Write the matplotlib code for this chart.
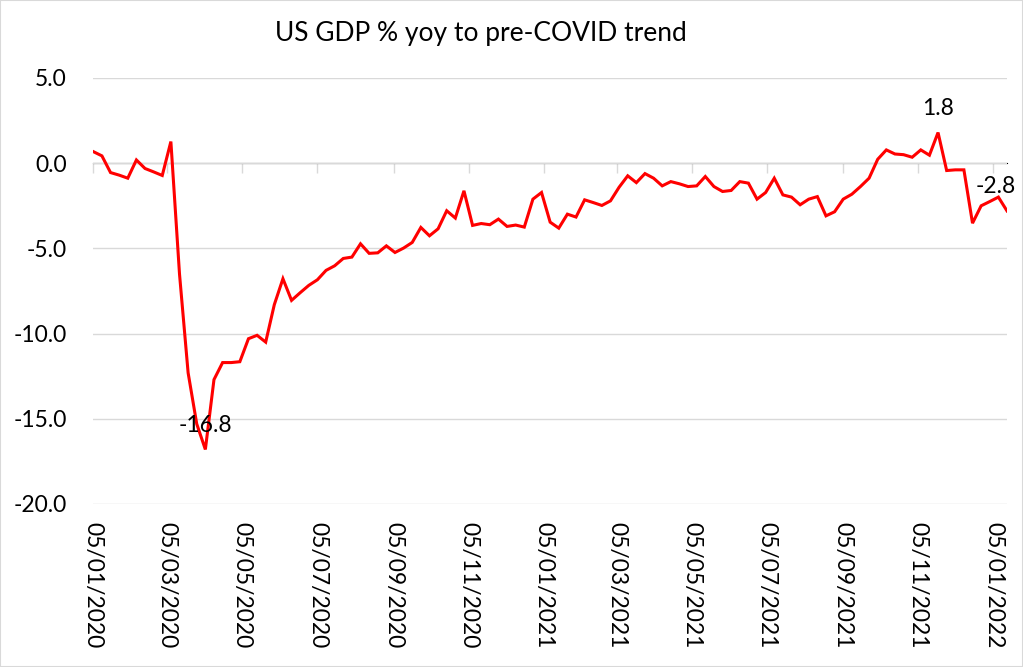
import numpy as np
import pandas as pd
import matplotlib
matplotlib.use("Agg")
import matplotlib.pyplot as plt
import matplotlib.dates as mdates
from matplotlib.patches import Rectangle

plt.rcParams["font.family"] = ["Lato", "DejaVu Sans"]
plt.rcParams["axes.unicode_minus"] = False

TITLE = "US GDP % yoy to pre-COVID trend"
START = "2020-01-05"

# weekly readings, % vs pre-COVID trend
gdp_gap = [
    0.68, 0.43, -0.55, -0.70, -0.88, 0.19, -0.31, -0.51, -0.72, 1.27,
    -6.5, -12.3, -15.3, -16.8, -12.7, -11.7, -11.7, -11.65, -10.3, -10.1,
    -10.5, -8.3, -6.78, -8.05, -7.6, -7.17, -6.84, -6.29, -6.02, -5.59,
    -5.51, -4.73, -5.29, -5.26, -4.85, -5.24, -4.98, -4.65, -3.77, -4.26,
    -3.85, -2.79, -3.22, -1.62, -3.65, -3.54, -3.61, -3.28, -3.71, -3.63,
    -3.75, -2.11, -1.72, -3.46, -3.81, -2.99, -3.16, -2.15, -2.31, -2.48,
    -2.21, -1.41, -0.74, -1.14, -0.61, -0.88, -1.33, -1.08, -1.21, -1.37,
    -1.33, -0.78, -1.37, -1.66, -1.60, -1.08, -1.17, -2.11, -1.72, -0.88,
    -1.86, -1.99, -2.44, -2.11, -1.96, -3.09, -2.85, -2.11, -1.82, -1.37,
    -0.88, 0.23, 0.78, 0.54, 0.50, 0.35, 0.78, 0.47, 1.8, -0.43,
    -0.39, -0.39, -3.52, -2.50, -2.25, -1.99, -2.8,
]
dates = pd.date_range(START, periods=len(gdp_gap), freq="7D")
y_ticks = [-20, -15, -10, -5, 0, 5]

GRID = "#d9d9d9"
FS = 16.5

fig = plt.figure(figsize=(10.23, 6.67), dpi=100)
ax = fig.add_axes([93.3 / 1023, 1 - 504 / 667, (1007 - 93.3) / 1023, (504 - 78) / 667])

ax.plot(dates, gdp_gap, color="#ff0000", lw=2.2, solid_joinstyle="miter", zorder=3)

ax.set_xlim(dates[0], dates[-1])
ax.set_ylim(-20, 5)
ax.set_yticks(y_ticks)
ax.yaxis.set_major_formatter(plt.FuncFormatter(lambda v, p: f"{v:.1f}"))
ax.grid(axis="y", color=GRID, lw=1)
ax.set_axisbelow(True)
for s in ax.spines.values():
    s.set_visible(False)

# tick every two months, on the 5th
ticks = pd.date_range("2020-01-01", dates[-1], freq="2MS") + pd.Timedelta(days=4)
ticks = ticks[ticks <= dates[-1]]
ax.set_xticks(ticks)
ax.xaxis.set_major_formatter(mdates.DateFormatter("%d/%m/%Y"))
ax.tick_params(axis="x", length=0, pad=13, labelsize=FS, rotation=-90)
ax.tick_params(axis="y", length=0, pad=19, labelsize=FS)
for lab in ax.get_xticklabels():
    lab.set_va("top")

# horizontal axis line at zero with outward ticks
zero_ax = ax.secondary_xaxis(20 / 25)
zero_ax.set_xticks(ticks)
zero_ax.tick_params(axis="x", direction="out", length=7, color=GRID, width=1, labelbottom=False)
zero_ax.spines["bottom"].set_color(GRID)
zero_ax.spines["bottom"].set_linewidth(1)
zero_ax.xaxis.set_ticks_position("bottom")
zero_ax.set_xticklabels([])

# data labels
i_min = int(np.argmin(gdp_gap))
i_max = int(np.argmax(gdp_gap))
i_last = len(gdp_gap) - 1
for idx, dx in [(i_min, 0), (i_max, 0), (i_last, -11)]:
    ax.annotate(f"{gdp_gap[idx]:.1f}", (dates[idx], gdp_gap[idx]),
                xytext=(dx, 24), textcoords="offset pixels",
                ha="center", va="center", fontsize=FS, annotation_clip=False)

fig.text(481 / 1023, 1 - 33 / 667, TITLE, ha="center", va="center", fontsize=19)

fig.patches.append(Rectangle((0, 0), 1, 1, transform=fig.transFigure, fill=False,
                             edgecolor=GRID, lw=1.5))

fig.savefig("out.png", dpi=100)
